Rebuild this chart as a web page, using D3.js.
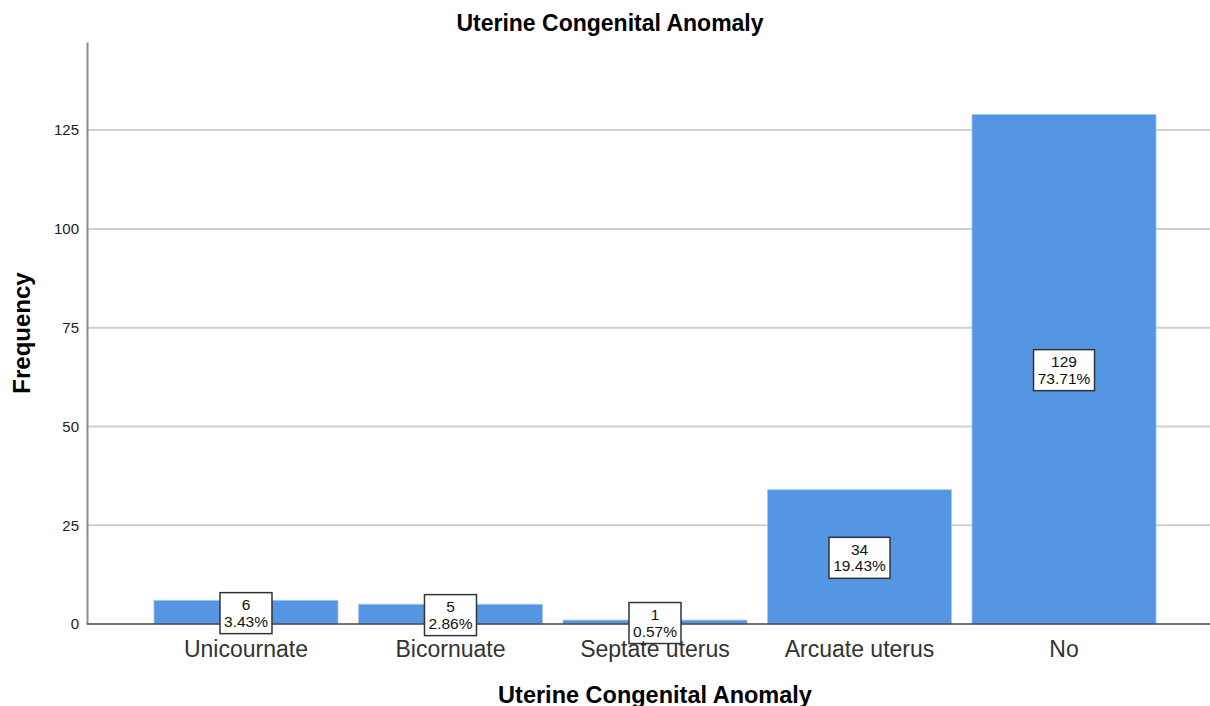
<!DOCTYPE html>
<html>
<head>
<meta charset="utf-8">
<title>Uterine Congenital Anomaly</title>
<style>
body { margin: 0; background: #fff; }
svg { display: block; font-family: "Liberation Sans", Arial, sans-serif; }
</style>
</head>
<body>
<div id="chart"></div>
<script src="https://d3js.org/d3.v7.min.js"></script>
<script>
// data
var categories = ["Unicournate", "Bicornuate", "Septate uterus", "Arcuate uterus", "No"];
var counts = [6, 5, 1, 34, 129];
var percents = ["3.43%", "2.86%", "0.57%", "19.43%", "73.71%"];
var yTicks = [0, 25, 50, 75, 100, 125];

var W = 1210, H = 706;
var svg = d3.select("#chart").append("svg")
  .attr("width", W)
  .attr("height", H);

var x = d3.scaleBand()
  .domain(categories)
  .range([133.5, 1176.5])
  .padding(0.1);

var y = d3.scaleLinear()
  .domain([0, 147.3])
  .range([624, 42]);

// title
svg.append("text")
  .attr("x", 610).attr("y", 31)
  .attr("text-anchor", "middle")
  .style("font-size", "23px").style("font-weight", "bold")
  .text("Uterine Congenital Anomaly");

// gridlines
svg.append("g").selectAll("line")
  .data(yTicks.filter(function(d) { return d > 0; }))
  .enter().append("line")
  .attr("x1", 88).attr("x2", W)
  .attr("y1", function(d) { return y(d); })
  .attr("y2", function(d) { return y(d); })
  .attr("stroke", "#cfcfcf").attr("stroke-width", 2);

// y axis
var yAxis = svg.append("g")
  .attr("transform", "translate(87,0)")
  .call(d3.axisLeft(y).tickValues(yTicks).tickSize(0).tickPadding(8));
yAxis.select(".domain").attr("stroke", "#8c8c8c").attr("stroke-width", 2);
yAxis.selectAll("text").style("font-size", "15px").attr("fill", "#222").attr("font-family", "Liberation Sans, Arial, sans-serif");

// bars
svg.append("g").selectAll("rect")
  .data(counts)
  .enter().append("rect")
  .attr("x", function(d, i) { return x(categories[i]); })
  .attr("width", x.bandwidth())
  .attr("y", function(d) { return y(d); })
  .attr("height", function(d) { return y(0) - y(d); })
  .attr("fill", "#5596e4")
  .attr("stroke", "#a9c9f1").attr("stroke-width", 0.8);

// baseline
svg.append("line")
  .attr("x1", 87).attr("x2", W)
  .attr("y1", y(0)).attr("y2", y(0))
  .attr("stroke", "#444").attr("stroke-width", 1.5);

// value boxes
var labels = svg.append("g").selectAll("g")
  .data(counts)
  .enter().append("g")
  .attr("transform", function(d, i) {
    return "translate(" + (x(categories[i]) + x.bandwidth() / 2) + "," + (y(d / 2) + 1) + ")";
  });

labels.append("rect")
  .attr("x", function(d, i) { return percents[i].length > 5 ? -30.5 : -26; })
  .attr("width", function(d, i) { return percents[i].length > 5 ? 61 : 52; })
  .attr("y", -20.5).attr("height", 41)
  .attr("fill", "#fff").attr("stroke", "#333").attr("stroke-width", 1.5);

labels.append("text")
  .attr("y", -3)
  .attr("text-anchor", "middle")
  .style("font-size", "15.5px").attr("fill", "#111")
  .text(function(d) { return d; });

labels.append("text")
  .attr("y", 13.5)
  .attr("text-anchor", "middle")
  .style("font-size", "15.5px").attr("fill", "#111")
  .text(function(d, i) { return percents[i]; });

// category labels
svg.append("g").selectAll("text")
  .data(categories)
  .enter().append("text")
  .attr("x", function(d) { return x(d) + x.bandwidth() / 2; })
  .attr("y", 657)
  .attr("text-anchor", "middle")
  .style("font-size", "23px").attr("fill", "#333")
  .text(function(d) { return d; });

// axis titles
svg.append("text")
  .attr("x", 655).attr("y", 703)
  .attr("text-anchor", "middle")
  .style("font-size", "23.5px").style("font-weight", "bold")
  .text("Uterine Congenital Anomaly");

svg.append("text")
  .attr("transform", "translate(30,333) rotate(-90)")
  .attr("text-anchor", "middle")
  .style("font-size", "24px").style("font-weight", "bold")
  .text("Frequency");
</script>
</body>
</html>
